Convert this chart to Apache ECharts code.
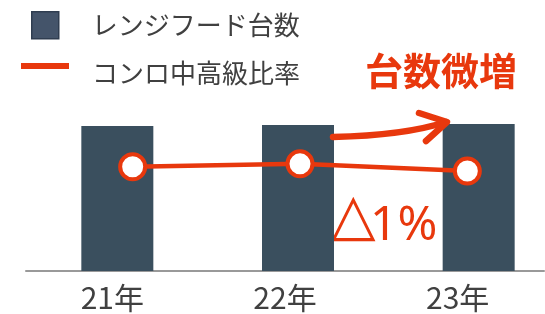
<!DOCTYPE html>
<html><head><meta charset="utf-8">
<script src="https://cdn.jsdelivr.net/npm/echarts@6/dist/echarts.min.js"></script>
<style>html,body{margin:0;padding:0;background:#fff}#c{width:545px;height:314px}</style>
</head><body><div id="c"></div>
<script>
const categories = ['21年', '22年', '23年'];
const hoodCounts = [145, 146, 147];
const rangeRatio = [52.6, 53.0, 52.0];
const seriesNames = ['レンジフード台数', 'コンロ中高級比率'];
const noteTitle = '台数微増';
const noteDeltaSign = '△';
const noteDeltaValue = '1%';

const RED = '#e8380d';
const FONT = 'Noto Sans CJK JP';
const chart = echarts.init(document.getElementById('c'), null, {renderer: 'canvas'});
chart.setOption({
  animation: false,
  backgroundColor: '#fff',
  legend: [
    {left: 31, top: 11, padding: 0, itemWidth: 27, itemHeight: 27, icon: 'rect',
     data: [{name: seriesNames[0], itemStyle: {color: '#44546a', borderColor: '#2f3d50', borderWidth: 1.5}}],
     textStyle: {fontFamily: FONT, fontSize: 26, color: '#404040', padding: [0, 0, 0, 28]}},
    {left: 21, top: 60, padding: 0, itemWidth: 48, itemHeight: 20,
     icon: 'path://M0,0h48v6h-48z M0,20h1',
     data: [{name: seriesNames[1], itemStyle: {color: RED, borderWidth: 0}}],
     textStyle: {fontFamily: FONT, fontSize: 26, color: '#404040', padding: [0, 0, 0, 18]}}
  ],
  grid: [
    {left: 27, width: 542, top: 71, bottom: 43, outerBoundsMode: 'none', containLabel: false},
    {left: 49, width: 502, top: 71, bottom: 43, outerBoundsMode: 'none', containLabel: false},
    {left: 26, width: 518, top: 71, bottom: 43, outerBoundsMode: 'none', containLabel: false}
  ],
  xAxis: [
    {gridIndex: 0, type: 'category', data: categories, show: false},
    {gridIndex: 1, type: 'category', data: categories, show: false},
    {gridIndex: 2, type: 'category', data: categories,
     axisLine: {lineStyle: {color: '#999', width: 2}}, axisTick: {show: false},
     axisLabel: {fontFamily: FONT, fontSize: 30, color: '#404040', margin: 12}}
  ],
  yAxis: [
    {gridIndex: 0, type: 'value', min: 0, max: 200, show: false},
    {gridIndex: 1, type: 'value', min: 38, max: 66, show: false},
    {gridIndex: 2, type: 'value', min: 0, max: 1, show: false}
  ],
  series: [
    {name: seriesNames[0], type: 'bar', xAxisIndex: 0, yAxisIndex: 0, data: hoodCounts,
     barWidth: 72, itemStyle: {color: '#3a4f5e'}},
    {name: seriesNames[1], type: 'line', xAxisIndex: 1, yAxisIndex: 1, data: rangeRatio,
     symbol: 'circle', symbolSize: 25, lineStyle: {color: RED, width: 4.5},
     itemStyle: {color: '#fff', borderColor: RED, borderWidth: 4}, z: 5}
  ],
  graphic: [
    {type: 'text', left: 365, top: 52, style: {text: noteTitle, fontFamily: FONT, fontWeight: 'bold', fontSize: 38, fill: RED}},
    {type: 'text', left: 331, top: 190, style: {text: noteDeltaSign, fontFamily: 'DejaVu Sans', fontSize: 58, fill: RED}},
    {type: 'text', left: 370, top: 202, style: {text: noteDeltaValue, fontFamily: 'Noto Sans', fontSize: 48, fill: RED}},
    {type: 'bezierCurve', shape: {x1: 333, y1: 137, cpx1: 380, cpy1: 136, cpx2: 415, cpy2: 132, x2: 446, y2: 122},
     style: {stroke: RED, lineWidth: 6.5, lineCap: 'round', fill: null}, z: 10},
    {type: 'polyline', shape: {points: [[419, 113], [447, 122], [426, 141]]},
     style: {stroke: RED, lineWidth: 6.5, lineCap: 'round', lineJoin: 'round', fill: null}, z: 10}
  ]
});
</script></body></html>
